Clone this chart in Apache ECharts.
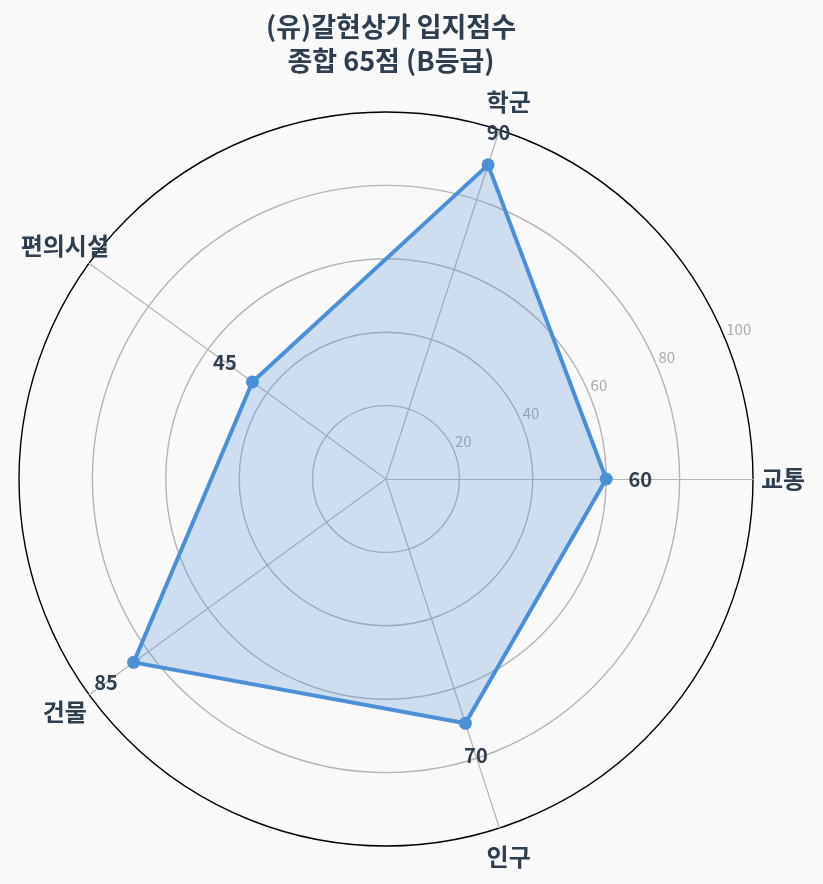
<!DOCTYPE html>
<html>
<head>
<meta charset="utf-8">
<script src="https://cdn.jsdelivr.net/npm/echarts@6/dist/echarts.min.js"></script>
<style>
  html, body { margin: 0; padding: 0; background: #f9f9f9; }
  #chart { width: 823px; height: 884px; }
</style>
</head>
<body>
<div id="chart"></div>
<script>
// 입지점수 항목과 점수
const categories = ['교통', '학군', '편의시설', '건물', '인구']
const scores = [60, 90, 45, 85, 70]
const maxScore = 100
const tickStep = 20

const center = [386, 479]
const radius = 367
const textColor = '#2c3e50'
const lineColor = '#4a90d9'
const font = '"Noto Sans CJK KR", "Noto Sans", sans-serif'

// 라벨을 축 방향으로 바깥쪽에 밀어내는 오프셋
function outward (i, dist) {
  const a = (i * 360 / categories.length) * Math.PI / 180
  return [dist * Math.cos(a), -dist * Math.sin(a)]
}

const valueLabels = scores.map((v, i) => ({
  value: [v, categories[i]],
  label: { offset: outward(i, 34) }
}))

const nameLabels = categories.map((c, i) => ({
  value: [maxScore, c],
  label: { offset: outward(i, 30) }
}))

const chart = echarts.init(document.getElementById('chart'))
chart.setOption({
  backgroundColor: '#f9f9f9',
  animation: false,
  textStyle: { fontFamily: font },
  title: {
    text: '(유)갈현상가 입지점수\n종합 65점 (B등급)',
    left: 386,
    top: 5,
    textAlign: 'center',
    textStyle: {
      color: textColor, fontSize: 27, fontWeight: 'bold',
      lineHeight: 34, fontFamily: font
    }
  },
  radar: {
    center: center,
    radius: radius,
    shape: 'circle',
    startAngle: 0,
    splitNumber: maxScore / tickStep,
    indicator: categories.map(name => ({ name: name, max: maxScore, min: 0 })),
    axisName: { show: false },
    axisLine: { lineStyle: { color: '#b4b4b4', width: 1.2 } },
    splitLine: {
      lineStyle: {
        color: ['#b4b4b4', '#b4b4b4', '#b4b4b4', '#b4b4b4', '#b4b4b4', '#000000'],
        width: 1.4
      }
    },
    splitArea: { show: false }
  },
  polar: [
    { center: center, radius: radius },
    { center: center, radius: radius }
  ],
  angleAxis: [
    {
      polarIndex: 0, type: 'value', min: 0, max: 360, startAngle: 22.5,
      axisLine: { show: false }, axisTick: { show: false },
      axisLabel: { show: false }, splitLine: { show: false }
    },
    {
      polarIndex: 1, type: 'category', data: categories, startAngle: 0,
      clockwise: false, boundaryGap: false,
      axisLine: { show: false }, axisTick: { show: false },
      axisLabel: { show: false }, splitLine: { show: false }
    }
  ],
  radiusAxis: [
    {
      polarIndex: 0, min: 0, max: maxScore, interval: tickStep,
      axisLine: { show: false }, axisTick: { show: false },
      splitLine: { show: false },
      axisLabel: {
        showMinLabel: false, color: '#aaaaaa', fontSize: 15, margin: 10,
        align: 'left', verticalAlign: 'middle', padding: [0, 0, 0, 5]
      }
    },
    {
      polarIndex: 1, min: 0, max: maxScore,
      axisLine: { show: false }, axisTick: { show: false },
      splitLine: { show: false }, axisLabel: { show: false }
    }
  ],
  series: [
    {
      type: 'radar',
      symbol: 'circle',
      symbolSize: 13,
      lineStyle: { color: lineColor, width: 4 },
      itemStyle: { color: lineColor },
      areaStyle: { color: lineColor, opacity: 0.25 },
      data: [{ value: scores, name: '입지점수' }],
      z: 3
    },
    {
      type: 'scatter',
      coordinateSystem: 'polar',
      polarIndex: 1,
      symbolSize: 0,
      itemStyle: { opacity: 1 },
      label: {
        show: true,
        position: 'inside',
        formatter: p => p.value[0],
        color: textColor, fontSize: 20, fontWeight: 'bold', fontFamily: font
      },
      data: valueLabels,
      z: 4
    },
    {
      type: 'scatter',
      coordinateSystem: 'polar',
      polarIndex: 1,
      symbolSize: 0,
      itemStyle: { opacity: 1 },
      label: {
        show: true,
        position: 'inside',
        formatter: p => p.value[1],
        color: textColor, fontSize: 24, fontWeight: 'bold', fontFamily: font
      },
      data: nameLabels,
      z: 4
    }
  ]
})
</script>
</body>
</html>
